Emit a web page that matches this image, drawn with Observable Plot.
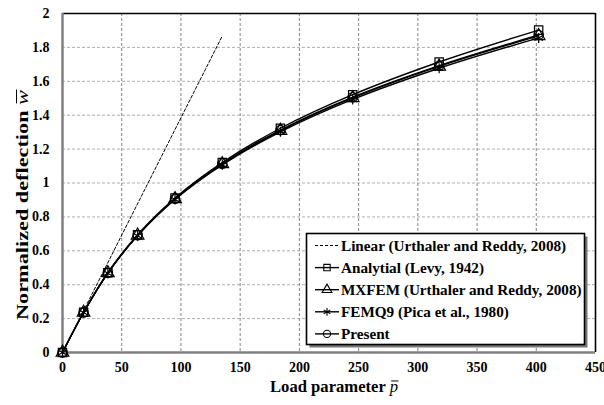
<!DOCTYPE html>
<html>
<head>
<meta charset="utf-8">
<script src="https://cdn.jsdelivr.net/npm/d3@7"></script>
<script src="https://cdn.jsdelivr.net/npm/@observablehq/plot@0.6"></script>
<style>
  html, body { margin: 0; padding: 0; background: #fff; }
  #chart { position: relative; width: 604px; height: 405px; }
</style>
</head>
<body>
<div id="chart"></div>
<script>
// Load parameter values
const loads = [0, 17.8, 38.3, 63.4, 95.0, 134.9, 184.0, 245.0, 318.0, 402.0];
// Series (normalized deflection)
const analytical = [0, 0.237, 0.471, 0.695, 0.912, 1.121, 1.323, 1.521, 1.714, 1.902];
const mxfem      = [0, 0.236, 0.469, 0.691, 0.906, 1.112, 1.309, 1.502, 1.688, 1.868];
const femq9      = [0, 0.236, 0.468, 0.689, 0.903, 1.107, 1.302, 1.493, 1.677, 1.856];
const present    = [0, 0.236, 0.470, 0.692, 0.907, 1.114, 1.312, 1.506, 1.692, 1.873];
// Linear solution (endpoints)
const linearP = [0, 134.7];
const linearW = [0, 1.865];
// Ticks
const xTicks = [0, 50, 100, 150, 200, 250, 300, 350, 400, 450];
const yTicks = [0, 0.2, 0.4, 0.6, 0.8, 1, 1.2, 1.4, 1.6, 1.8, 2];

const seriesNames = ["Analytial (Levy, 1942)", "MXFEM (Urthaler and Reddy, 2008)", "FEMQ9 (Pica et al., 1980)", "Present"];
const seriesVals = [analytical, mxfem, femq9, present];
const seriesSymbols = ["square", "triangle", "asterisk", "circle"];

const rows = [];
seriesNames.forEach((n, i) => loads.forEach((p, j) => rows.push({series: n, p, w: seriesVals[i][j], sym: seriesSymbols[i]})));
const linRows = linearP.map((p, i) => ({p, w: linearW[i]}));

const font = "'Liberation Serif', 'Times New Roman', serif";

const plot = Plot.plot({
  width: 604, height: 405,
  marginLeft: 62, marginRight: 9, marginTop: 13, marginBottom: 53,
  style: {fontFamily: font, fontWeight: "bold", fontSize: "14px", color: "#000", background: "#fff"},
  x: {domain: [0, 450], ticks: xTicks, label: null},
  y: {domain: [0, 2], ticks: yTicks, label: null},
  symbol: {domain: seriesSymbols, range: seriesSymbols},
  marks: [
    Plot.gridX(xTicks, {stroke: "#666", strokeOpacity: 1, strokeDasharray: "3,2", strokeWidth: 0.8}),
    Plot.gridY(yTicks, {stroke: "#999", strokeOpacity: 1, strokeDasharray: "3,2", strokeWidth: 0.8}),
    Plot.ruleY([2], {stroke: "#000", strokeWidth: 1.6}),
    Plot.ruleX([450], {stroke: "#000", strokeWidth: 1.6}),
    Plot.ruleY([0], {stroke: "#808080", strokeWidth: 2.5}),
    Plot.ruleX([0], {stroke: "#808080", strokeWidth: 2.5}),
    Plot.axisX({ticks: xTicks, tickSize: 0, tickPadding: 10, label: null, fontSize: 14}),
    Plot.axisY({ticks: yTicks, tickSize: 0, tickPadding: 13, label: null, tickFormat: d => String(+d.toFixed(1)), fontSize: 14}),
    Plot.line(linRows, {x: "p", y: "w", stroke: "#000", strokeWidth: 1, strokeDasharray: "3,2"}),
    Plot.line(rows, {x: "p", y: "w", z: "series", stroke: "#000", strokeWidth: 1.4, curve: "catmull-rom"}),
    Plot.dot(rows, {x: "p", y: "w", symbol: "sym", r: 4.7, stroke: "#000", fill: "none", strokeWidth: 1.2})
  ]
});

const container = document.getElementById("chart");
container.appendChild(plot);
const svg = d3.select(plot);

// Axis titles with an overbar on the italic symbol
function axisTitle(transform, main, sym, fontSize, totalLen) {
  const g = svg.append("g").attr("transform", transform);
  const t = g.append("text").attr("x", 0).attr("y", 0).attr("text-anchor", "middle").attr("dy", "0.35em")
    .style("font-family", font).style("font-size", fontSize + "px").style("fill", "#000");
  t.append("tspan").style("font-weight", "bold").text(main);
  t.append("tspan").style("font-style", "italic").style("font-weight", "normal").text(sym);
  const node = t.node();
  if (totalLen) t.attr("textLength", totalLen).attr("lengthAdjust", "spacingAndGlyphs");
  const n = node.getNumberOfChars();
  const ext = node.getExtentOfChar(n - 1);
  g.append("line").attr("x1", ext.x + 1.5).attr("x2", ext.x + ext.width + 0.5)
    .attr("y1", ext.y + ext.height * 0.22).attr("y2", ext.y + ext.height * 0.22)
    .attr("stroke", "#000").attr("stroke-width", 1);
}
axisTitle("translate(334,386)", "Load parameter ", "p", 16.5, 128);
axisTitle("translate(22,205) rotate(-90)", "Normalized deflection ", "w", 17.5, 230);

// Legend
const lg = svg.append("g");
lg.append("rect").attr("x", 309.5).attr("y", 236.5).attr("width", 278).attr("height", 111).attr("fill", "#777");
lg.append("rect").attr("x", 306.5).attr("y", 233.5).attr("width", 278).attr("height", 111).attr("fill", "#fff").attr("stroke", "#000").attr("stroke-width", 1.6);
const legendItems = [
  {label: "Linear (Urthaler and Reddy, 2008)", sym: null, dash: "3,2"},
  ...seriesNames.map((n, i) => ({label: n, sym: seriesSymbols[i], dash: null}))
];
const symMap = {square: d3.symbolSquare, triangle: d3.symbolTriangle, asterisk: d3.symbolAsterisk, circle: d3.symbolCircle};
legendItems.forEach((it, i) => {
  const cy = 245.5 + i * 22.1;
  lg.append("line").attr("x1", 315).attr("x2", 339).attr("y1", cy).attr("y2", cy)
    .attr("stroke", "#000").attr("stroke-width", it.dash ? 1 : 1.4).attr("stroke-dasharray", it.dash);
  if (it.sym) {
    lg.append("path").attr("transform", `translate(327,${cy})`)
      .attr("d", d3.symbol(symMap[it.sym], 3.6 * 3.6 * Math.PI)())
      .attr("fill", "none").attr("stroke", "#000").attr("stroke-width", 1.1);
  }
  lg.append("text").attr("x", 341).attr("y", cy).attr("dy", "0.35em").attr("text-anchor", "start")
    .style("font-family", font).style("font-weight", "bold").style("font-size", "15.2px").text(it.label);
});
</script>
</body>
</html>
